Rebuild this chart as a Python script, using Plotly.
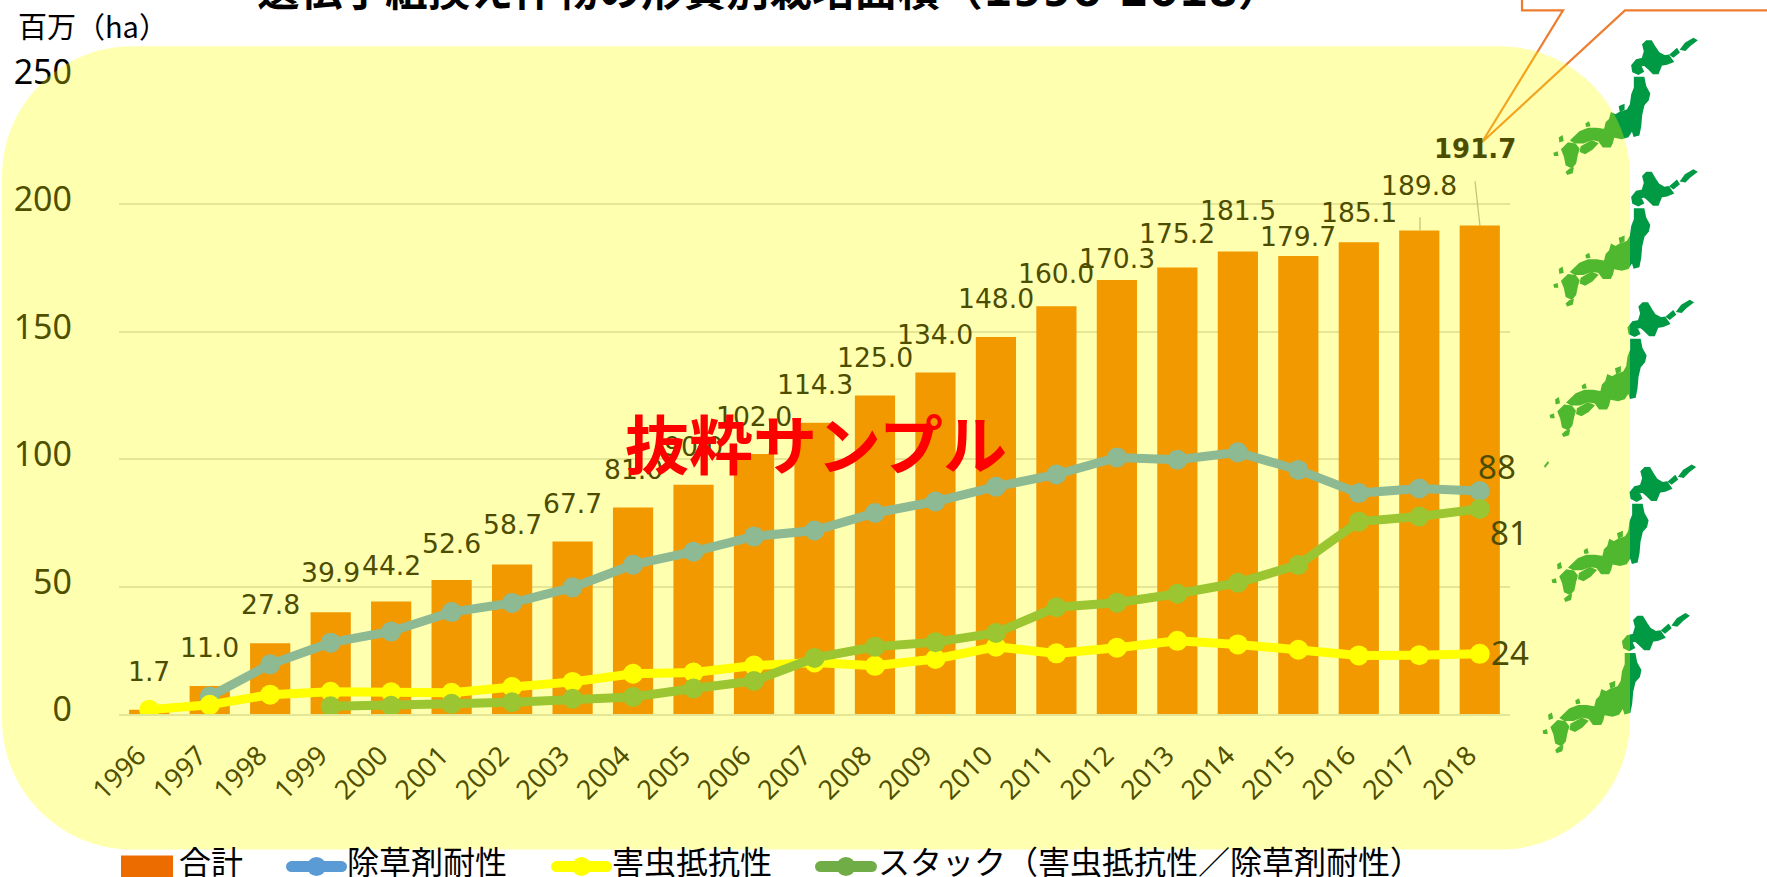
import plotly.graph_objects as go

years = ["1996","1997","1998","1999","2000","2001","2002","2003","2004","2005","2006","2007",
         "2008","2009","2010","2011","2012","2013","2014","2015","2016","2017","2018"]
total = [1.7,11.0,27.8,39.9,44.2,52.6,58.7,67.7,81.0,90.0,102.0,114.3,125.0,134.0,148.0,160.0,
         170.3,175.2,181.5,179.7,185.1,189.8,191.7]
herbicide = [None,6.9,19.5,28.0,32.4,40.0,43.6,49.7,58.6,63.7,69.7,72.0,78.9,83.4,89.2,94.0,
             100.7,99.8,102.7,95.8,86.7,88.5,87.5]
insect = [1.7,3.6,7.6,8.7,8.5,8.3,10.6,12.6,15.8,16.3,19.0,20.2,18.9,21.6,26.4,23.8,26.0,28.7,
          27.3,25.2,23.0,23.1,23.6]
stacked = [None,None,None,3.0,3.2,4.0,4.6,6.0,6.7,10.0,13.0,22.0,26.4,28.2,31.8,41.9,43.7,47.2,
           51.5,58.5,75.5,77.5,80.5]
label_shift = [38,38,39,40,36,36,40,38,38,38,38,38,38,38,38,33,22,34,41,20,30,45,77]
y_ticks = [0,50,100,150,200,250]
end_labels = [("88",1497,467),("81",1509,533),("24",1510,653)]

TINT = "#4D4D00"
SANS = "DejaVu Sans, Noto Sans CJK JP"
JP = "Noto Sans CJK JP, Noto Sans"
W, H = 1767, 877
L, R, T, B = 119, 1510, 76.7, 714.3

def px(x): return (x - L) / (R - L)
def py(y): return (B - y) / (B - T)
def pt(x, y): return f"{px(x):.5f} {py(y):.5f}"
def poly(points):
    return "M " + " L ".join(pt(x, y) for x, y in points) + " Z"

JAPAN = [
 [(315,55),(328,55),(340,75),(350,90),(368,100),(380,98),(392,115),(375,122),(358,125),(348,150),(335,150),
  (320,135),(308,125),(295,128),(303,145),(290,152),(275,145),(272,128),(285,112),(303,108),(310,85),(305,65)],
 [(420,78),(432,62),(455,48),(462,52),(445,65),(430,80)],
 [(388,95),(405,80),(410,88),(395,100)],
 [(280,165),(305,165),(310,190),(322,212),(318,230),(305,245),(298,275),(295,310),(290,335),(278,338),(272,318),
  (258,340),(240,345),(215,340),(210,360),(205,370),(185,370),(172,352),(150,348),(125,358),(100,358),(90,352),
  (115,328),(140,318),(165,318),(190,322),(195,300),(205,290),(210,272),(222,278),(235,270),(258,262),(268,245),
  (272,215),(280,195)],
 [(120,372),(150,355),(165,362),(150,378),(130,390),(118,385)],
 [(62,380),(80,362),(100,365),(110,378),(105,395),(100,420),(90,432),(75,425),(70,400)],
 [(235,252),(245,248),(245,258),(237,262)],
 [(135,303),(140,300),(142,307),(136,308)],
 [(55,345),(60,342),(62,352),(56,354)],
 [(39,392),(45,390),(46,396),(40,396)],
 [(85,440),(92,438),(90,448),(78,452),(76,448)],
]
MAP_PLACES = [(1.7,-427.3,1.0),(1.7,-295.6,1.0),(-2,-165,1.0),(0,0,1.0),(-9.3,148.4,1.02)]

shapes = []
for dx, dy, s in MAP_PLACES:
    for part in JAPAN:
        pts = [(1540 + dx + zx/3*s, 450 + dy + zy/3*s) for zx, zy in part]
        shapes.append(dict(type="path", xref="paper", yref="paper", path=poly(pts),
                           fillcolor="#009944", line=dict(width=2.4, color="#009944"), layer="above"))
shapes.append(dict(type="path", xref="paper", yref="paper",
                   path=poly([(1544,466),(1548,461),(1549,463),(1545,468)]),
                   fillcolor="#009944", line=dict(width=0), layer="above"))

# callout
shapes.append(dict(type="path", xref="paper", yref="paper",
    path=poly([(1522,-5),(1522,10),(1563,10),(1482,142),(1625,10),(1775,10),(1775,-5)]),
    fillcolor="white", line=dict(color="#ED7D31", width=2.2), layer="above"))

# leader lines
for x0,y0,x1,y1 in [(1420,217,1420,230),(1475,181,1480,226)]:
    shapes.append(dict(type="line", xref="paper", yref="paper", x0=px(x0), y0=py(y0), x1=px(x1), y1=py(y1),
                       line=dict(color="#A6A6A6", width=1.2), layer="above"))

# translucent yellow rounded panel, above the chart
x0,y0,x1,y1,r = 2,46,1630,850,130
k = r*0.45
panel = ("M "+pt(x0+r,y0)+" L "+pt(x1-r,y0)+" C "+pt(x1-k,y0)+" "+pt(x1,y0+k)+" "+pt(x1,y0+r)
         +" L "+pt(x1,y1-r)+" C "+pt(x1,y1-k)+" "+pt(x1-k,y1)+" "+pt(x1-r,y1)
         +" L "+pt(x0+r,y1)+" C "+pt(x0+k,y1)+" "+pt(x0,y1-k)+" "+pt(x0,y1-r)
         +" L "+pt(x0,y0+r)+" C "+pt(x0,y0+k)+" "+pt(x0+k,y0)+" "+pt(x0+r,y0)+" Z")
shapes.append(dict(type="path", xref="paper", yref="paper", path=panel,
                   fillcolor="rgba(255,255,0,0.31)", line=dict(width=0), layer="above"))

# legend swatches
def swatch(x0, x1, y, color):
    out = [dict(type="line", xref="paper", yref="paper", x0=px(x0+5), x1=px(x1-5), y0=py(y), y1=py(y),
                line=dict(color=color, width=11), layer="above")]
    for cx, rad in [(x0+5.5,5.5),(x1-5.5,5.5),((x0+x1)/2,9.5)]:
        out.append(dict(type="circle", xref="paper", yref="paper", x0=px(cx-rad), x1=px(cx+rad),
                        y0=py(y-rad), y1=py(y+rad), fillcolor=color, line=dict(width=0), layer="above"))
    return out
shapes.append(dict(type="rect", xref="paper", yref="paper", x0=px(121), x1=px(173), y0=py(856), y1=py(880),
                   fillcolor="#ED6C00", line=dict(width=0), layer="above"))
shapes += swatch(286,347,867,"#5B9BD5") + swatch(551,612,867,"#FFFF00") + swatch(815,877,867,"#70AD47")

ann = []
def text(x, y, s, size, color="black", family=JP, bold=False, xanchor="center"):
    ann.append(dict(xref="paper", yref="paper", x=px(x), y=py(y), text=f"<b>{s}</b>" if bold else s,
                    showarrow=False, xanchor=xanchor, yanchor="middle", borderpad=0,
                    font=dict(size=size, color=color, family=family)))

for i, (v, shift) in enumerate(zip(total, label_shift)):
    last = i == len(total) - 1
    ann.append(dict(xref="x", yref="y", x=i, y=v, yshift=shift, xshift=-5 if last else 0,
                    text=f"<b>{v:.1f}</b>" if last else f"{v:.1f}", showarrow=False, yanchor="middle",
                    font=dict(size=26 if last else 26.6, color=TINT, family="DejaVu Sans")))
for s, x, y in end_labels:
    text(x, y, s, 33, TINT, "Noto Sans")

text(93, 25, "百万（ha）", 29)
text(769, -9, "遺伝子組換え作物の形質別栽培面積（1996-2018）", 42.7, "black", SANS, True)
text(816, 441, "抜粋サンプル", 64, "#FF0000", JP, True)
for x, s in [(178,"合計"),(346,"除草剤耐性"),(611,"害虫抵抗性"),(877,"スタック（害虫抵抗性／除草剤耐性）")]:
    text(x, 860, s, 32, "black", JP, False, "left")

fig = go.Figure()
fig.add_bar(x=years, y=total, name="合計", marker=dict(color="#ED6C00", line=dict(width=0)))
for name, vals, col in [("除草剤耐性",herbicide,"#5B9BD5"),("害虫抵抗性",insect,"#FFFF00"),
                        ("スタック（害虫抵抗性／除草剤耐性）",stacked,"#70AD47")]:
    fig.add_scatter(x=years, y=vals, name=name, mode="lines+markers",
                    line=dict(color=col, width=9), marker=dict(color=col, size=20))

fig.update_layout(width=W, height=H, margin=dict(l=L, r=W-R, t=T, b=H-B, autoexpand=False),
    paper_bgcolor="white", plot_bgcolor="white", showlegend=False, bargap=0.335,
    shapes=shapes, annotations=ann, hovermode=False,
    font=dict(family=SANS, color="black"),
    xaxis=dict(type="category", categoryorder="array", categoryarray=years, range=[-0.5,22.5],
               tickangle=-45, tickfont=dict(size=27, family="Noto Sans"), ticks="", ticklabelstandoff=13,
               ticklabelshift=-11,
               showline=True, linecolor="#D9D9D9", linewidth=2, showgrid=False, zeroline=False),
    yaxis=dict(range=[0,250], tickvals=y_ticks, tickfont=dict(size=34, family="Noto Sans"), ticks="",
               ticklabelstandoff=46, ticklabelshift=-5, showline=False, showgrid=True, gridcolor="#D9D9D9", gridwidth=2,
               zeroline=False))
fig.write_html("out.html", config=dict(displayModeBar=False),
               post_script="document.body.style.margin='0';document.documentElement.style.overflow='hidden';")
